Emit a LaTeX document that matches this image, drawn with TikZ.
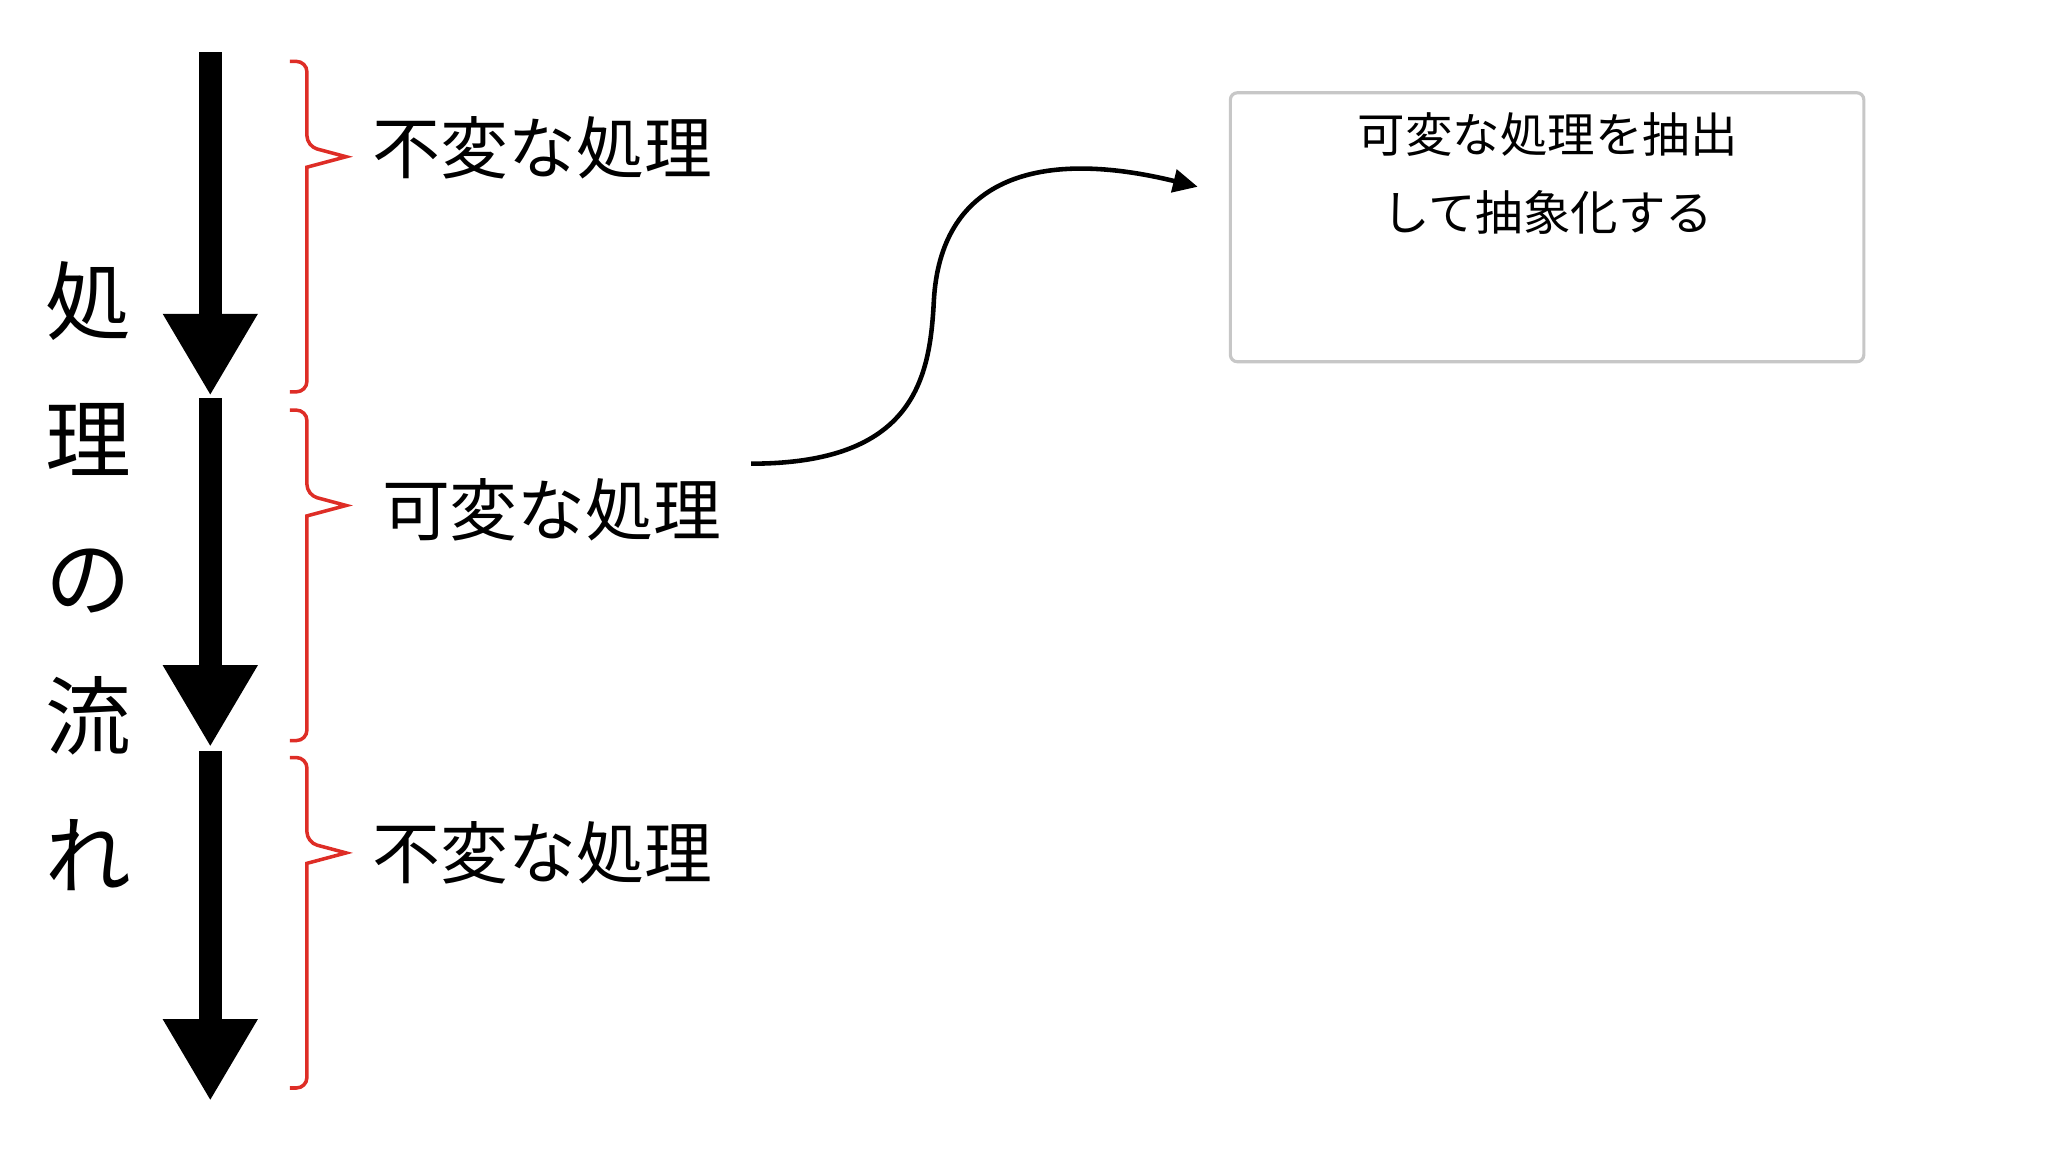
\documentclass[tikz,border=0pt]{standalone}
\usepackage{fontspec}
\setmainfont{Noto Sans CJK JP}
\usetikzlibrary{arrows.meta}

\definecolor{bracered}{RGB}{222,45,38}

\begin{document}
\begin{tikzpicture}[x=0.013061cm, y=-0.013061cm,
        flow/.style={line width=0.235cm, -{Triangle[length=0.82cm, width=0.89cm]}},
        bracket/.style={draw=bracered, line width=1pt},
        proclabel/.style={anchor=west, inner sep=0pt, font=\fontsize{19.3}{23}\selectfont},
        flowtext/.style={align=center, inner sep=0pt, font=\fontsize{24.4}{39.4}\selectfont},
        memo/.style={draw=black!22, line width=0.9pt, rounded corners=2pt,
            minimum width=6.335cm, minimum height=2.69cm},
        memotext/.style={align=center, inner sep=0pt, font=\fontsize{13.5}{22.2}\selectfont},
        curvearrow/.style={line width=1.3pt, -{Triangle[length=7pt, width=6.5pt]}}]

        \useasboundingbox (0,0) rectangle (1568,882);

        % flow of processing

        \coordinate (p0) at (161,40);
        \coordinate (p1) at (161,303);
        \coordinate (q1) at (161,305);
        \coordinate (p2) at (161,572);
        \coordinate (q2) at (161,575);
        \coordinate (p3) at (161,843);

        \draw [flow] (p0) -- (p1);
        \draw [flow] (q1) -- (p2);
        \draw [flow] (q2) -- (p3);

        \node [flowtext] (flowtitle) at (68,441) {処\\理\\の\\流\\れ};

        % braces

        \foreach \t/\m/\b in {47/120/300, 314/387/567, 580/653/833}
            \draw [bracket] (222,\t) [rounded corners=3pt] -- (235,\t) -- (235,\m-8)
                [sharp corners] -- (265,\m) -- (235,\m+8) [rounded corners=3pt] -- (235,\b) -- (222,\b);

        \node [proclabel] (fixed1) at (285,113) {不変な処理};
        \node [proclabel] (variable) at (292,390) {可変な処理};
        \node [proclabel] (fixed2) at (285,653) {不変な処理};

        % abstraction

        \node [memo] (memobox) at (1184.5,174) {};
        \node [memotext] (memolines) at (1185,133) {可変な処理を抽出\\して抽象化する};

        \coordinate (cstart) at (575,355);
        \coordinate (cend) at (917,143);

        \draw [curvearrow] (cstart) .. controls (700,355) and (712,290) .. (715,230)
            .. controls (720,140) and (790,112) .. (cend);

    \end{tikzpicture}
\end{document}
